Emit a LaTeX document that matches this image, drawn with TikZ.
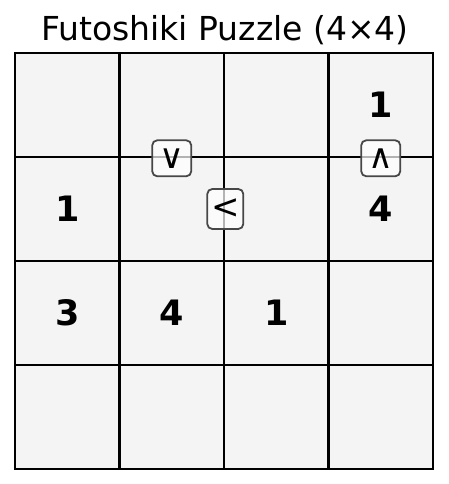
\documentclass[tikz,border=0pt]{standalone}
\usepackage{fontspec}
\setmainfont{DejaVu Sans}
\begin{document}
\begin{tikzpicture}[x=1pt,y=1pt,
  cellbox/.style={draw=black,line width=2.6pt,fill=cellgray,minimum width=104.5pt,minimum height=104pt,inner sep=0pt,anchor=center},
  digit/.style={font=\fontsize{35}{35}\selectfont\bfseries},
  ineq/.style={draw=black!72,line width=1.8pt,rounded corners=5pt,fill=white,fill opacity=0.7,text opacity=1,minimum width=39pt,minimum height=36pt,inner sep=0pt,font=\fontsize{34}{34}\selectfont},
  ineqv/.style={ineq,minimum width=36pt,minimum height=40pt}]
\definecolor{cellgray}{HTML}{F4F4F4}
\useasboundingbox (0,0) rectangle (448,484);
\node[font=\fontsize{33}{33}\selectfont] (title) at (225,454) {Futoshiki Puzzle (4×4)};
\foreach \r in {0,1,2,3}{
  \foreach \c in {0,1,2,3}{
    \node[cellbox] (c\r\c) at ({15+52.25+104.5*\c},{484-53-52-104*\r}) {};
  }
}
\node[digit] (d03) at (c03) {1};
\node[digit] (d10) at (c10) {1};
\node[digit] (d13) at (c13) {4};
\node[digit] (d20) at (c20) {3};
\node[digit] (d21) at (c21) {4};
\node[digit] (d22) at (c22) {1};
\node[ineq] (i1) at (c01.south) {∨};
\node[ineqv] (i2) at (c11.east) {<};
\node[ineq] (i3) at (c03.south) {∧};
\end{tikzpicture}
\end{document}
